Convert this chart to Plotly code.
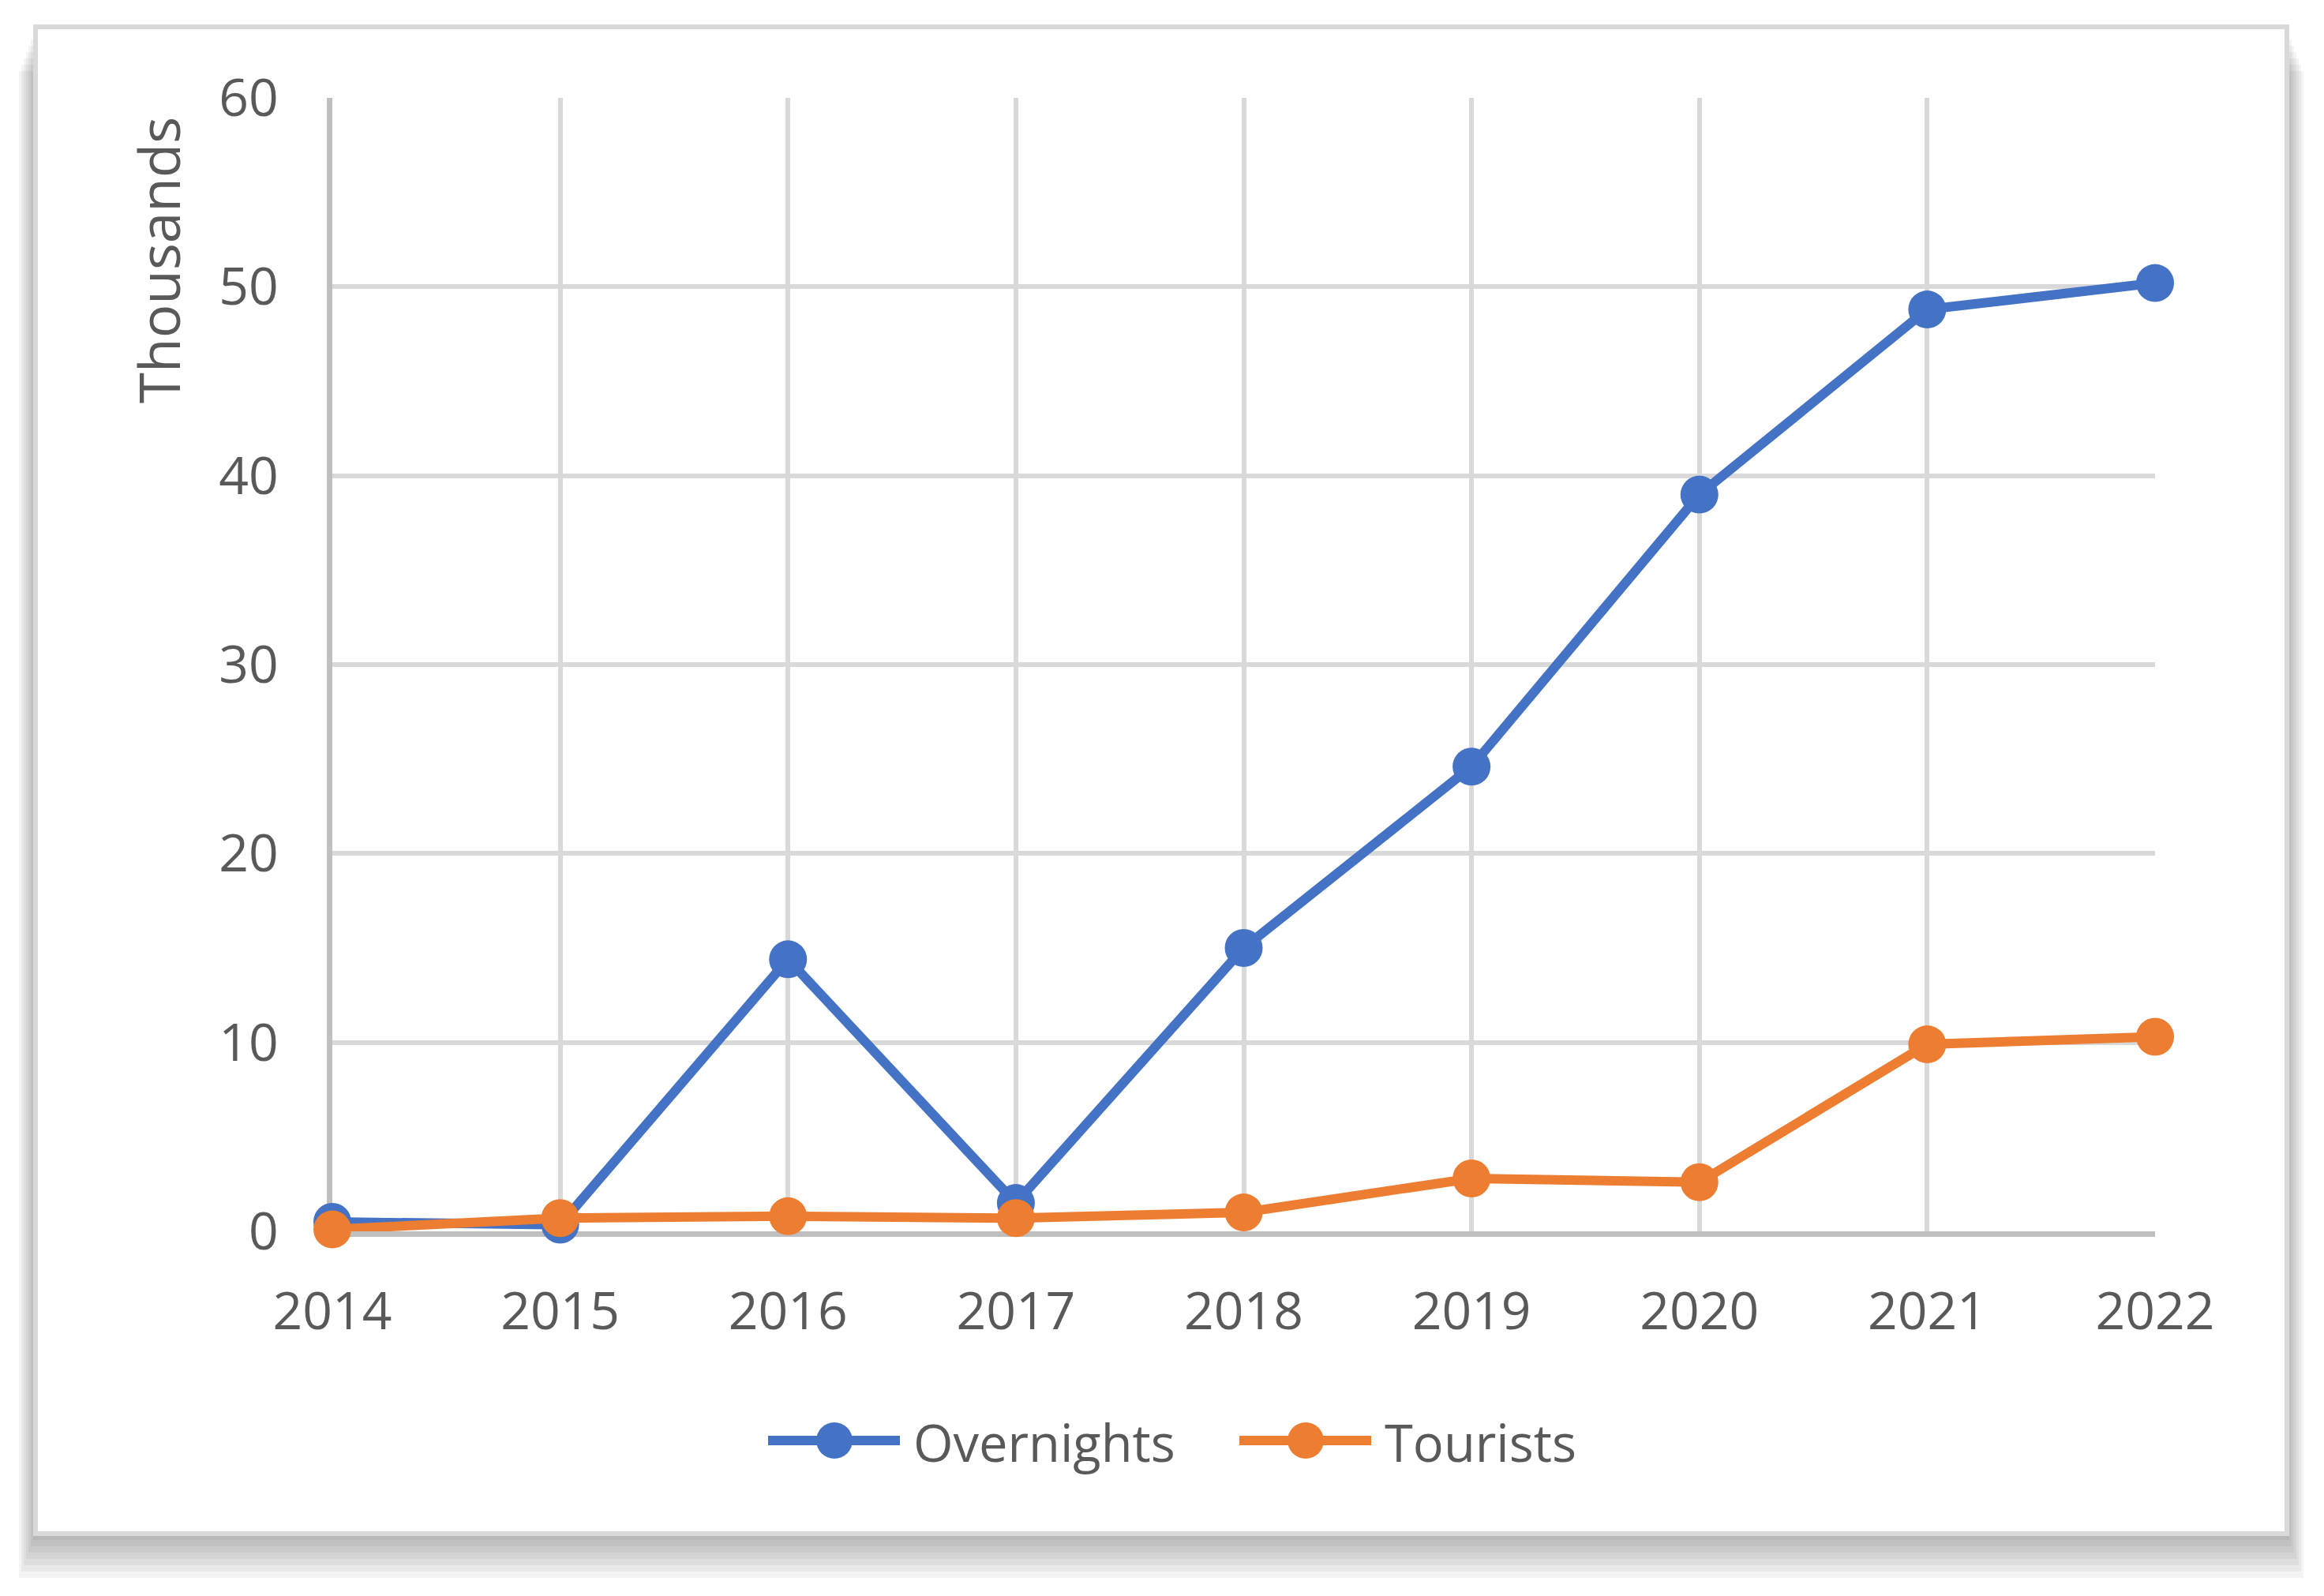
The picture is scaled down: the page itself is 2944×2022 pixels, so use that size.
"""Overnights vs tourists line chart (Excel-style) in Plotly"""

import plotly.graph_objects as go

# data (thousands)
years = [2014, 2015, 2016, 2017, 2018, 2019, 2020, 2021, 2022]
overnights = [0.5, 0.35, 14.4, 1.5, 15.0, 24.6, 39.0, 48.8, 50.2]
tourists = [0.1, 0.7, 0.8, 0.7, 1.0, 2.8, 2.6, 9.9, 10.3]

series_names = ["Overnights", "Tourists"]
series_colors = ["#4472C4", "#ED7D31"]

y_ticks = [0, 10, 20, 30, 40, 50, 60]

W, H = 2944, 2022
OFF = 8  # page body margin
L, R, T, B = 421 - OFF, 2730 - OFF, 124 - OFF, 1560 - OFF  # plot area in px
PW, PH = R - L, B - T


def px_x(x):
    return (x - OFF - L) / PW


def px_y(y):
    return (B - (y - OFF)) / PH


fig = go.Figure()

for name, vals, color in zip(series_names, [overnights, tourists], series_colors):
    fig.add_trace(
        go.Scatter(x=years, y=vals, mode="lines+markers", name=name,
                   line=dict(color=color, width=12),
                   marker=dict(color=color, size=48),
                   cliponaxis=False, showlegend=False)
    )

# chart frame + soft drop shadow
fx0, fy0, fx1, fy1 = 45, 34, 2897, 1943
shapes = []
for k in range(1, 8):
    shapes.append(dict(type="rect", xref="paper", yref="paper", layer="below",
                       x0=px_x(fx0 - k * 3), x1=px_x(fx1 + k * 3),
                       y0=px_y(fy0 + k * 8), y1=px_y(fy1 + k * 8),
                       line=dict(width=0), fillcolor="rgba(0,0,0,0.045)"))
shapes.append(dict(type="rect", xref="paper", yref="paper", layer="below",
                   x0=px_x(fx0), x1=px_x(fx1), y0=px_y(fy0), y1=px_y(fy1),
                   line=dict(color="#d9d9d9", width=6), fillcolor="white"))

# legend drawn by hand so the symbols keep Excel's size
annotations = [dict(text="Thousands", xref="paper", yref="paper", x=px_x(200), y=px_y(330),
                    xanchor="center", yanchor="middle", textangle=-90, showarrow=False,
                    font=dict(size=71, color="#595959"))]
leg_y = 1825
for name, color, lx in zip(series_names, series_colors, [973, 1570]):
    shapes.append(dict(type="line", xref="paper", yref="paper",
                       x0=px_x(lx), x1=px_x(lx + 167), y0=px_y(leg_y), y1=px_y(leg_y),
                       line=dict(color=color, width=12)))
    cx = lx + 84
    shapes.append(dict(type="circle", xref="paper", yref="paper",
                       x0=px_x(cx - 23), x1=px_x(cx + 23), y0=px_y(leg_y - 23), y1=px_y(leg_y + 23),
                       line=dict(width=0), fillcolor=color))
    annotations.append(dict(text=name, xref="paper", yref="paper", x=px_x(lx + 182), y=px_y(leg_y + 2),
                            xanchor="left", yanchor="middle", showarrow=False,
                            font=dict(size=65, color="#595959")))

fig.update_layout(
    width=W, height=H,
    margin=dict(l=L, r=W - R, t=T, b=H - B, pad=0),
    paper_bgcolor="white",
    plot_bgcolor="rgba(0,0,0,0)",
    font=dict(family="Open Sans", color="#595959", size=66),
    shapes=shapes,
    annotations=annotations,
    showlegend=False,
)

fig.update_xaxes(
    range=[2014, 2022], tickmode="array", tickvals=years, ticktext=[str(y) for y in years],
    showgrid=True, gridcolor="#d9d9d9", gridwidth=6,
    showline=True, linecolor="#bfbfbf", linewidth=7,
    zeroline=False, ticks="", ticklabelstandoff=38, layer="below traces",
)
fig.update_yaxes(
    range=[0, 60], tickmode="array", tickvals=y_ticks,
    showgrid=True, gridcolor="#d9d9d9", gridwidth=6,
    showline=True, linecolor="#bfbfbf", linewidth=7,
    zeroline=False, ticks="", ticklabelstandoff=48, layer="below traces",
)

fig.write_html("out.html")
